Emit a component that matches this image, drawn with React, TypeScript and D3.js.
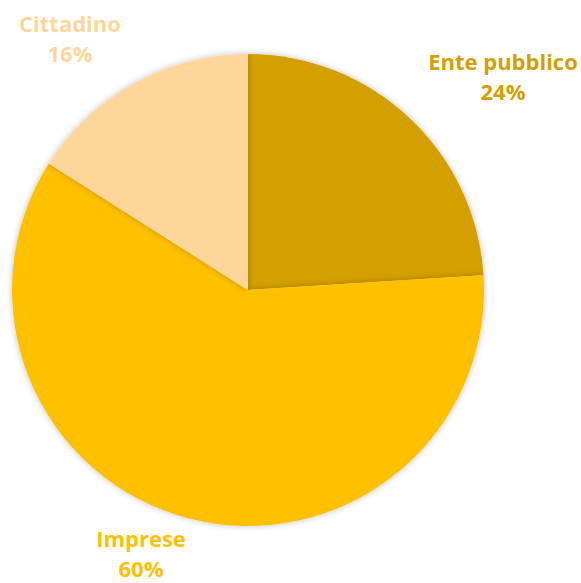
import React from "react";
import * as d3 from "d3";

const categories = ["Ente pubblico", "Imprese", "Cittadino"];
const values = [24, 60, 16];
const colors = ["#D4A000", "#FFC000", "#FFD699"];
const labelPos: [number, number][] = [[503, 70], [141, 547], [70, 32]];

export default function App() {
  const W = 581, H = 583;
  const cx = 248, cy = 290, r = 236;
  const pie = d3.pie<number>().sort(null).value((d) => d)(values);
  const arc = d3.arc<d3.PieArcDatum<number>>().innerRadius(0).outerRadius(r);
  const total = d3.sum(values);
  return (
    <svg width={W} height={H} style={{ position: "absolute", left: 0, top: 0 }}>
      <defs>
        <filter id="sh" x="-10%" y="-10%" width="120%" height="120%">
          <feDropShadow dx="0" dy="0" stdDeviation="3" floodColor="#000" floodOpacity="0.25" />
        </filter>
      </defs>
      <g transform={`translate(${cx},${cy})`}>
        {pie.map((p, i) => (
          <path key={i} d={arc(p) || ""} fill={colors[i]} filter="url(#sh)" />
        ))}
      </g>
      {categories.map((c, i) => (
        <text key={c} x={labelPos[i][0]} y={labelPos[i][1]} textAnchor="middle" fill={colors[i]}
          fontFamily="'Open Sans', sans-serif" fontWeight="bold" fontSize={22}>
          <tspan x={labelPos[i][0]}>{c}</tspan>
          <tspan x={labelPos[i][0]} dy={30}>{Math.round((values[i] / total) * 100)}%</tspan>
        </text>
      ))}
    </svg>
  );
}
